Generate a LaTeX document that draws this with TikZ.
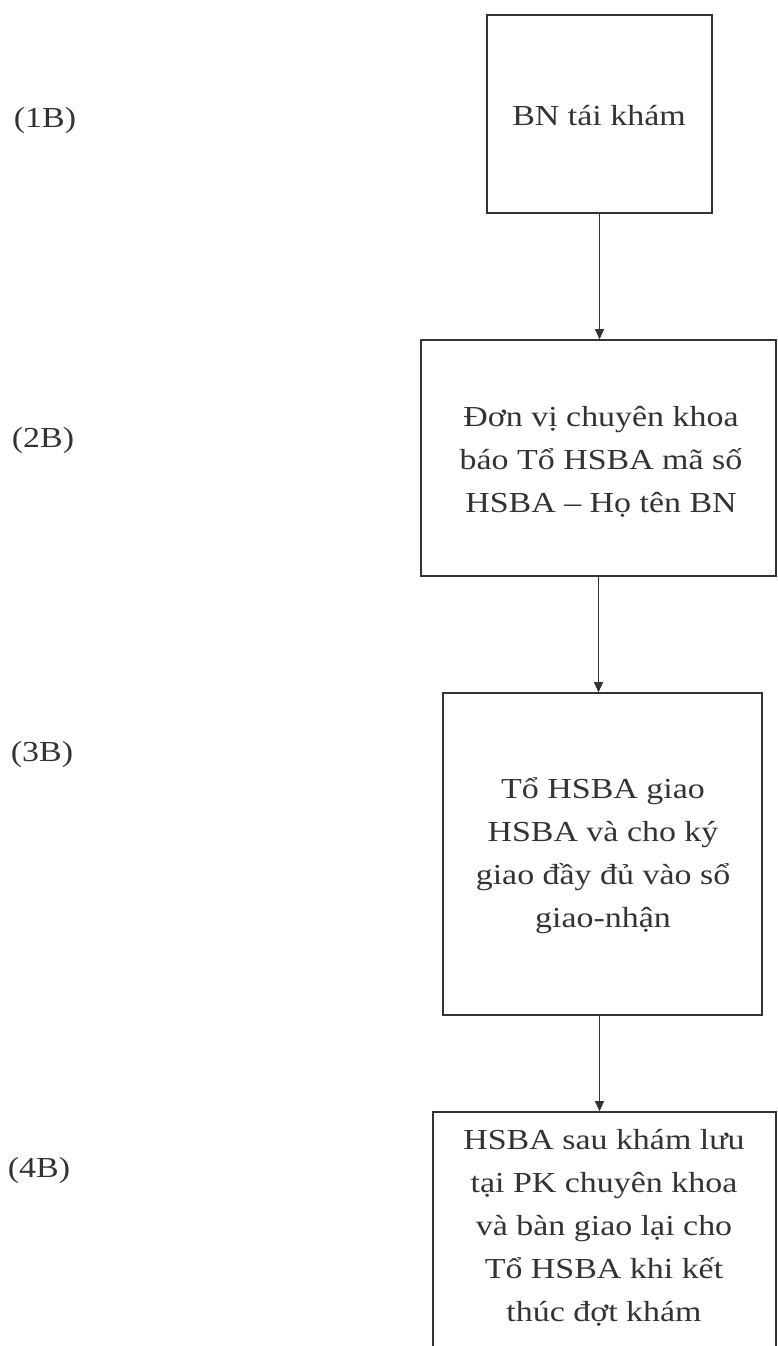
\documentclass[tikz,border=0pt]{standalone}
\usepackage{fontspec}
\usetikzlibrary{arrows.meta}
\newfontfamily\reffont[FakeStretch=1.17]{Liberation Serif}
\definecolor{ink}{gray}{0.2}
\tikzset{
  boxnode/.style={draw=ink, line width=1.6pt, rectangle, inner sep=0pt},
  txt/.style={text=ink, align=center, font=\reffont\fontsize{29}{43}\selectfont, inner sep=0pt},
  lbl/.style={text=ink, font=\reffont\fontsize{29}{43}\selectfont, inner sep=0pt},
  flow/.style={draw=ink, line width=1pt, -{Triangle[width=9pt,length=10pt]}}
}
\begin{document}
\begin{tikzpicture}[x=1pt,y=-1pt]
\clip (0,0) rectangle (778,1346);
\fill[white] (0,0) rectangle (778,1346);
% boxes
\node[boxnode, minimum width=225pt, minimum height=198pt] (b1) at (599.5,114) {};
\node[boxnode, minimum width=355pt, minimum height=236pt] (b2) at (598.5,458) {};
\node[boxnode, minimum width=319pt, minimum height=322pt] (b3) at (602.5,854) {};
\node[boxnode, minimum width=343pt, minimum height=300pt] (b4) at (604.5,1262) {};
% texts
\node[txt] (t1) at (599,116) {BN tái khám};
\node[txt] (t2) at (601,462) {Đơn vị chuyên khoa\\báo Tổ HSBA mã số\\HSBA – Họ tên BN};
\node[txt] (t3) at (603,856) {Tổ HSBA giao\\HSBA và cho ký\\giao đầy đủ vào sổ\\giao-nhận};
\node[txt] (t4) at (604,1228) {HSBA sau khám lưu\\tại PK chuyên khoa\\và bàn giao lại cho\\Tổ HSBA khi kết\\thúc đợt khám};
% labels
\node[lbl] (l1) at (45,121) {(1B)};
\node[lbl] (l2) at (43,441) {(2B)};
\node[lbl] (l3) at (42,755) {(3B)};
\node[lbl] (l4) at (39,1171) {(4B)};
% connectors
\draw[flow] (b1.south) -- (b1.south |- b2.north);
\draw[flow] (b2.south) -- (b2.south |- b3.north);
\draw[flow] ([xshift=-3pt]b3.south) -- ([xshift=-3pt]b3.south |- b4.north);
\end{tikzpicture}
\end{document}
